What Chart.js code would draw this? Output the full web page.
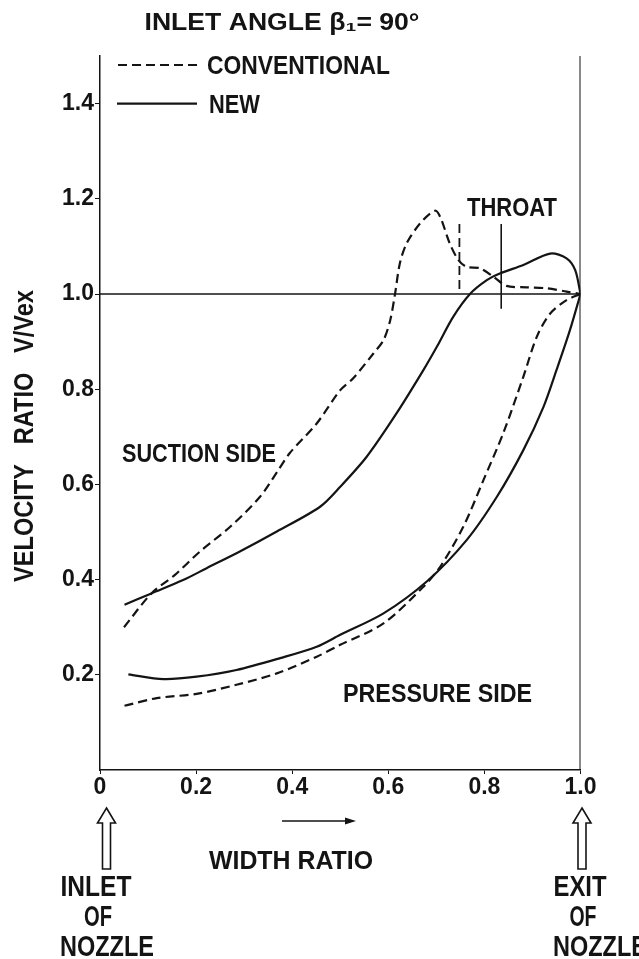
<!DOCTYPE html>
<html>
<head>
<meta charset="utf-8">
<script src="https://cdn.jsdelivr.net/npm/chart.js@4"></script>
<style>
  body { margin: 0; background: #fff; }
  #wrap { width: 639px; height: 959px; }
</style>
</head>
<body>
<div id="wrap"><canvas id="nozzleChart"></canvas></div>
<script>
// values (width ratio -> velocity ratio V/Vex)
const convSuctionX = [0.05, 0.107, 0.156, 0.208, 0.271, 0.333, 0.371, 0.395, 0.451, 0.50, 0.527, 0.569, 0.59, 0.604, 0.614, 0.624, 0.638, 0.666, 0.697, 0.708, 0.728, 0.746, 0.763, 0.791, 0.819, 0.846, 0.888, 0.93, 0.971, 1.0];
const convSuctionY = [0.30, 0.371, 0.41, 0.459, 0.511, 0.574, 0.63, 0.666, 0.728, 0.798, 0.823, 0.875, 0.903, 0.945, 1.0, 1.064, 1.106, 1.148, 1.175, 1.162, 1.106, 1.071, 1.057, 1.054, 1.036, 1.017, 1.014, 1.012, 1.005, 1.0];

const newSuctionX = [0.051, 0.107, 0.173, 0.222, 0.291, 0.368, 0.458, 0.50, 0.555, 0.617, 0.673, 0.701, 0.735, 0.77, 0.805, 0.832, 0.881, 0.937, 0.971, 0.989, 1.0];
const newSuctionY = [0.347, 0.371, 0.399, 0.424, 0.459, 0.501, 0.553, 0.595, 0.658, 0.749, 0.84, 0.889, 0.952, 1.0, 1.029, 1.043, 1.061, 1.085, 1.075, 1.05, 1.0];

const newPressureX = [0.059, 0.132, 0.201, 0.284, 0.375, 0.451, 0.50, 0.59, 0.68, 0.763, 0.826, 0.881, 0.923, 0.95, 0.978, 1.0];
const newPressureY = [0.201, 0.191, 0.196, 0.21, 0.235, 0.259, 0.284, 0.329, 0.396, 0.483, 0.574, 0.672, 0.763, 0.84, 0.924, 1.0];

const convPressureX = [0.051, 0.118, 0.201, 0.284, 0.368, 0.451, 0.50, 0.59, 0.673, 0.708, 0.756, 0.798, 0.839, 0.881, 0.909, 0.937, 0.971, 1.0];
const convPressureY = [0.135, 0.151, 0.16, 0.179, 0.203, 0.238, 0.263, 0.308, 0.385, 0.427, 0.511, 0.609, 0.707, 0.826, 0.91, 0.959, 0.987, 1.0];

// throat markers
const throatNewX = 0.835;
const throatNewY = [1.147, 0.969];
const throatConvX = 0.748;
const throatConvY = [1.147, 1.0];

const xTicks = [0, 0.2, 0.4, 0.6, 0.8, 1.0];
const yTicks = [0.2, 0.4, 0.6, 0.8, 1.0, 1.2, 1.4];

const INK = '#141414';
const FONT = "'Liberation Sans', Arial, sans-serif";
const DASH = [9, 5];

function pts(xs, ys) {
    return xs.map((x, i) => ({ x: x, y: ys[i] }));
}

function curve(data, dashed) {
    return {
        data: data,
        borderColor: INK,
        borderWidth: 2.2,
        borderDash: dashed ? DASH : [],
        pointRadius: 0,
        tension: 0.3,
        fill: false
    };
}

function straight(data, dashed, width) {
    const d = curve(data, dashed);
    d.tension = 0;
    d.borderWidth = width || 1.6;
    return d;
}

// texts, legend and the arrows below the axis
const annotations = {
    id: 'annotations',
    afterDraw(chart) {
        const ctx = chart.ctx;
        const xs = chart.scales.x;
        const ys = chart.scales.y;
        ctx.save();
        ctx.fillStyle = INK;
        ctx.strokeStyle = INK;

        // condensed lettering: squeeze the text to the width it has on the drawing
        function text(str, cx, cy, size, width, angle) {
            ctx.save();
            ctx.font = 'bold ' + size + 'px ' + FONT;
            ctx.textAlign = 'center';
            ctx.textBaseline = 'alphabetic';
            const w = ctx.measureText(str).width;
            ctx.translate(cx, cy);
            if (angle) ctx.rotate(angle);
            ctx.scale(width / w, 1);
            ctx.fillText(str, 0, size * 0.36);
            ctx.restore();
        }

        text('INLET ANGLE \u03b2\u2081= 90\u00b0', 282, 22, 23, 275);

        // legend
        const yNew = ys.getPixelForValue(1.4);
        ctx.lineWidth = 2.2;
        ctx.setLineDash(DASH);
        ctx.beginPath(); ctx.moveTo(118, 65); ctx.lineTo(197, 65); ctx.stroke();
        ctx.setLineDash([]);
        ctx.beginPath(); ctx.moveTo(117, yNew); ctx.lineTo(197, yNew); ctx.stroke();
        text('CONVENTIONAL', 298.5, 65, 25, 183);
        text('NEW', 234.5, yNew, 25, 51);

        text('THROAT', 512, 207, 25, 90);
        text('SUCTION SIDE', 199, 453, 25, 154);
        text('PRESSURE SIDE', 437.5, 693, 25, 189);

        // y title
        text('VELOCITY   RATIO   V/Vex', 23, 436, 27, 292, -Math.PI / 2);

        // x title with direction arrow
        text('WIDTH RATIO', 291, 860, 25, 164);
        ctx.lineWidth = 1.5;
        ctx.beginPath(); ctx.moveTo(282, 821); ctx.lineTo(348, 821); ctx.stroke();
        ctx.beginPath(); ctx.moveTo(356, 821); ctx.lineTo(345, 817.5); ctx.lineTo(345, 824.5); ctx.closePath(); ctx.fill();

        // hollow arrows at inlet and exit
        function hollowArrow(cx) {
            ctx.lineWidth = 1.6;
            ctx.beginPath();
            ctx.moveTo(cx, 808);
            ctx.lineTo(cx + 9, 823);
            ctx.lineTo(cx + 4, 823);
            ctx.lineTo(cx + 4, 869);
            ctx.lineTo(cx - 4, 869);
            ctx.lineTo(cx - 4, 823);
            ctx.lineTo(cx - 9, 823);
            ctx.closePath();
            ctx.stroke();
        }
        hollowArrow(xs.getPixelForValue(0) + 6.5);
        hollowArrow(xs.getPixelForValue(1) + 1.5);

        text('INLET', 96, 886, 29, 71);
        text('OF', 98, 916, 29, 28);
        text('NOZZLE', 107, 946, 29, 94);
        text('EXIT', 580, 886, 29, 53);
        text('OF', 583, 916, 29, 27);
        text('NOZZLE', 600, 946, 29, 94);

        ctx.restore();
    }
};

const ctx = document.getElementById('nozzleChart').getContext('2d');
new Chart(ctx, {
    type: 'line',
    data: {
        datasets: [
            curve(pts(convSuctionX, convSuctionY), true),
            curve(pts(newSuctionX, newSuctionY), false),
            curve(pts(newPressureX, newPressureY), false),
            curve(pts(convPressureX, convPressureY), true),
            straight([{ x: throatNewX, y: throatNewY[0] }, { x: throatNewX, y: throatNewY[1] }], false, 1.6),
            straight([{ x: throatConvX, y: throatConvY[0] }, { x: throatConvX, y: throatConvY[1] }], true, 1.8),
            straight([{ x: 0, y: 1 }, { x: 1, y: 1 }], false, 1.4),
            straight([{ x: 1, y: 0 }, { x: 1, y: 1.51 }], false, 2)
        ]
    },
    options: {
        responsive: true,
        maintainAspectRatio: false,
        animation: false,
        layout: { padding: { left: 60, right: 58.5, top: 56, bottom: 149 } },
        plugins: { legend: { display: false }, tooltip: { enabled: false } },
        scales: {
            x: {
                type: 'linear',
                min: 0,
                max: 1,
                afterBuildTicks: s => { s.ticks = xTicks.map(v => ({ value: v })); },
                afterFit: s => { s.height = 40; },
                ticks: {
                    color: INK,
                    padding: 0,
                    maxRotation: 0,
                    font: { family: FONT, size: 23, weight: 'bold' },
                    callback: v => v === 0 ? '0' : v.toFixed(1)
                },
                grid: { drawOnChartArea: false, tickLength: 4, color: INK },
                border: { color: INK, width: 1.5 }
            },
            y: {
                type: 'linear',
                min: 0,
                max: 1.5,
                afterBuildTicks: s => { s.ticks = yTicks.map(v => ({ value: v })); },
                afterFit: s => { s.width = 40; },
                ticks: {
                    color: INK,
                    padding: 1,
                    font: { family: FONT, size: 23, weight: 'bold' },
                    callback: v => v.toFixed(1)
                },
                grid: { drawOnChartArea: false, tickLength: 5, color: INK },
                border: { color: INK, width: 1.5 }
            }
        }
    },
    plugins: [annotations]
});
</script>
</body>
</html>
